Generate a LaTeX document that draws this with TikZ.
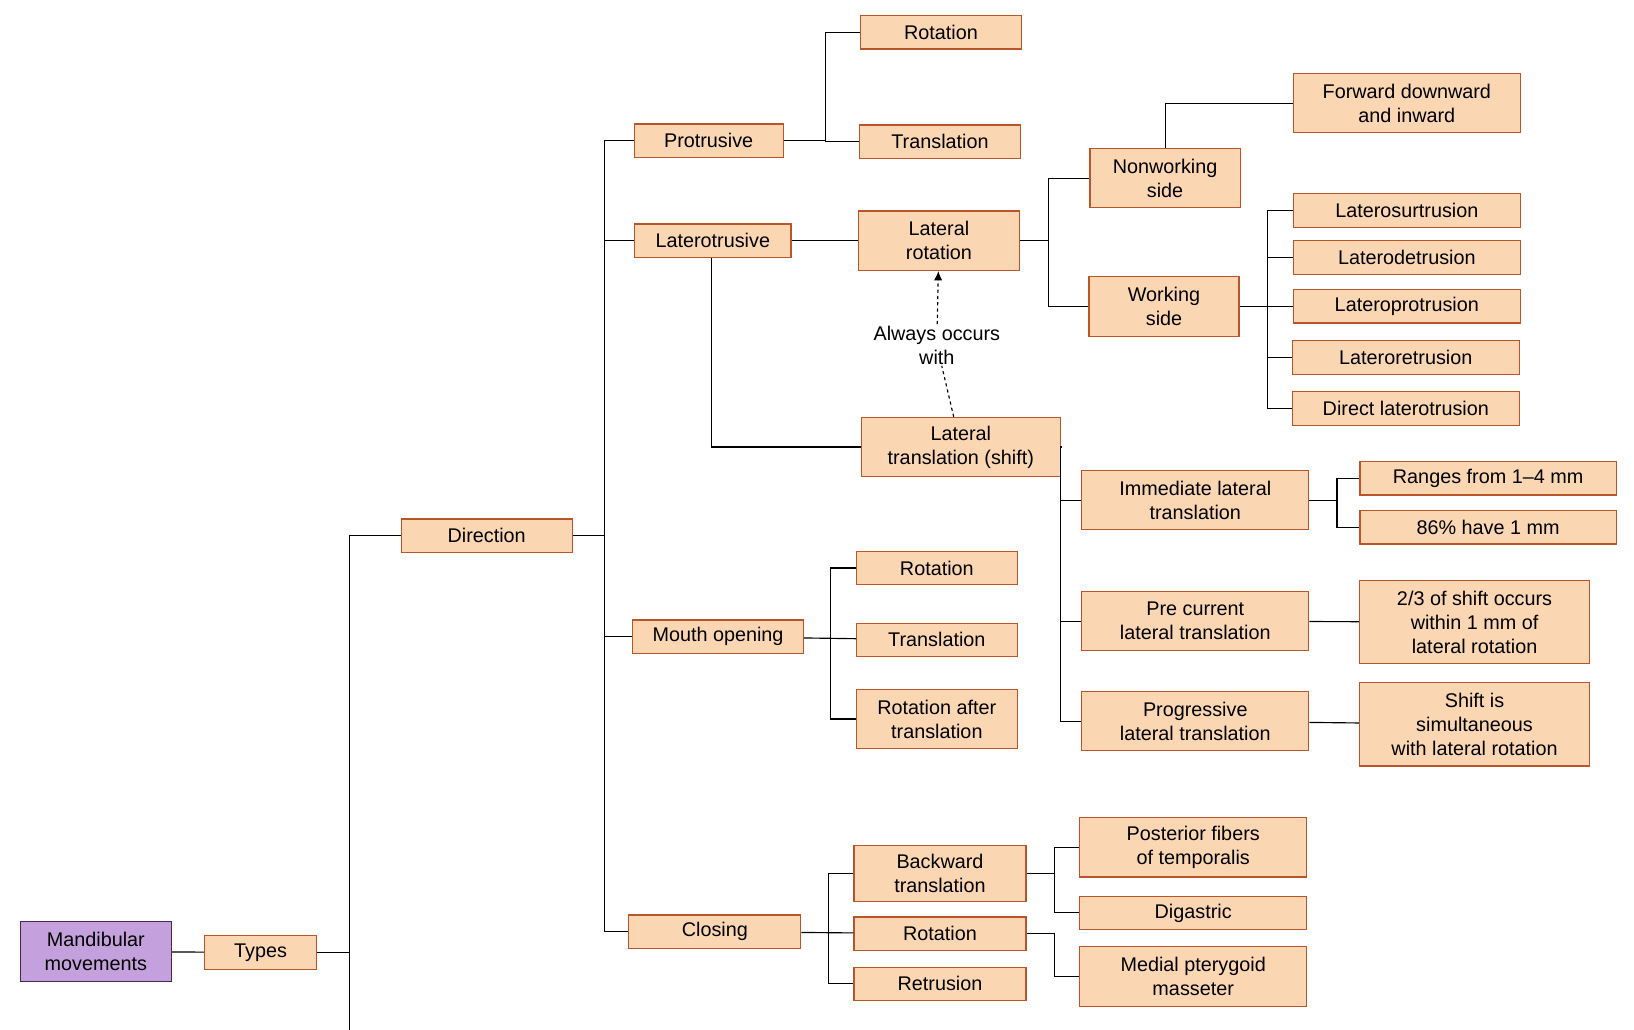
\documentclass[tikz,border=0pt]{standalone}
\usepackage{fontspec}
\setmainfont{Liberation Sans}
\usetikzlibrary{arrows.meta,positioning,calc}
\definecolor{boxfill}{RGB}{250,214,178}
\definecolor{boxline}{RGB}{185,85,40}
\definecolor{purfill}{RGB}{196,160,220}
\definecolor{purline}{RGB}{70,40,90}

\begin{document}
\begin{tikzpicture}[x=1pt,y=-1pt,line width=1.1pt]
  \tikzset{box/.style = {draw=boxline,fill=boxfill,align=center,inner sep=1pt,
      font=\fontsize{19}{27}\selectfont,minimum height=32pt}}
  \tikzset{root/.style = {box,draw=purline,fill=purfill}}
  \tikzset{link/.style = {draw=black,line width=1.1pt}}
  \useasboundingbox (0,0) rectangle (1568,988);

  % left side
  \node[root,minimum width=145pt,minimum height=57pt] (mand) at (92,913) {Mandibular\\[-4pt]movements};
  \node[box,minimum width=107pt] (types) at (250,914) {Types};
  \node[box,minimum width=164pt] (dir) at (467,514) {Direction};

  % direction branches
  \node[box,minimum width=143pt] (prot) at (680,135) {Protrusive};
  \node[box,minimum width=150pt] (lat) at (684,231) {Laterotrusive};
  \node[box,minimum width=164pt] (mouth) at (689,611) {Mouth opening};
  \node[box,minimum width=165pt] (clos) at (686,894) {Closing};

  % protrusive
  \node[box,minimum width=154pt] (prot1) at (903,31) {Rotation};
  \node[box,minimum width=154pt] (prot2) at (902,136) {Translation};

  % laterotrusive
  \node[box,minimum width=155pt,minimum height=57pt] (lrot) at (901,231) {Lateral\\[-4pt]rotation};
  \node[box,minimum width=191pt,minimum height=57pt] (ltr) at (922,429) {Lateral\\[-4pt]translation (shift)};
  \node[align=center,font=\fontsize{19}{27}\selectfont,fill=white,inner sep=1pt] (always) at (899,331) {Always occurs\\[-4pt]with};
  \node[box,minimum width=144pt,minimum height=57pt] (nonw) at (1118,171) {Nonworking\\[-4pt]side};
  \node[box,minimum width=144pt,minimum height=57pt] (work) at (1117,294) {Working\\[-4pt]side};
  \node[box,minimum width=218pt,minimum height=57pt] (fwd) at (1350,99) {Forward downward\\[-4pt]and inward};
  \node[box,minimum width=218pt] (w1) at (1350,202) {Laterosurtrusion};
  \node[box,minimum width=218pt] (w2) at (1350,247) {Laterodetrusion};
  \node[box,minimum width=218pt] (w3) at (1350,294) {Lateroprotrusion};
  \node[box,minimum width=218pt] (w4) at (1349,343) {Lateroretrusion};
  \node[box,minimum width=218pt] (w5) at (1349,392) {Direct laterotrusion};
  \node[box,minimum width=218pt,minimum height=57pt] (imm) at (1147,480) {Immediate lateral\\[-4pt]translation};
  \node[box,minimum width=218pt,minimum height=57pt] (pre) at (1147,596) {Pre current\\[-4pt]lateral translation};
  \node[box,minimum width=218pt,minimum height=57pt] (prog) at (1147,692) {Progressive\\[-4pt]lateral translation};
  \node[box,minimum width=246pt] (rng) at (1428,459) {Ranges from 1–4 mm};
  \node[box,minimum width=246pt] (pct) at (1428,506) {86\% have 1 mm};
  \node[box,minimum width=221pt,minimum height=80pt] (third) at (1415,597) {2/3 of shift occurs\\[-4pt]within 1 mm of\\[-4pt]lateral rotation};
  \node[box,minimum width=221pt,minimum height=80pt] (simul) at (1415,695) {Shift is\\[-4pt]simultaneous\\[-4pt]with lateral rotation};

  % mouth opening
  \node[box,minimum width=154pt] (mo1) at (899,545) {Rotation};
  \node[box,minimum width=154pt] (mo2) at (899,614) {Translation};
  \node[box,minimum width=154pt,minimum height=57pt] (mo3) at (899,690) {Rotation after\\[-4pt]translation};

  % closing
  \node[box,minimum width=165pt,minimum height=54pt] (cl1) at (902,838) {Backward\\[-4pt]translation};
  \node[box,minimum width=165pt] (cl2) at (902,896) {Rotation};
  \node[box,minimum width=165pt] (cl3) at (902,944) {Retrusion};
  \node[box,minimum width=218pt,minimum height=57pt] (post) at (1145,813) {Posterior fibers\\[-4pt]of temporalis};
  \node[box,minimum width=218pt] (dig) at (1145,876) {Digastric};
  \node[box,minimum width=218pt,minimum height=57pt] (med) at (1145,937) {Medial pterygoid\\[-4pt]masseter};

  % junctions
  \coordinate (tj) at (335,988);
  \coordinate (dj) at (580,514);
  \coordinate (pj) at (792,0);
  \coordinate (rj) at (1006,0);
  \coordinate (wj) at (1216,0);
  \coordinate (sj) at (1018,0);
  \coordinate (ij) at (1283,0);
  \coordinate (mj) at (797,0);
  \coordinate (cj) at (795,0);
  \coordinate (bj) at (1012,0);

  % connectors
  \draw[link] (mand) -- (types);
  \draw[link] (types) -- (types -| tj);
  \draw[link] (tj) |- (dir);
  \draw[link] (dir) -- (dj);
  \draw[link] (prot) -| (dj) |- (clos);
  \draw[link] (lat) -- (lat -| dj);
  \draw[link] (mouth) -- (mouth -| dj);
  \draw[link] (prot1) -| (pj |- prot2) -- (prot2);
  \draw[link] (prot) -- (prot -| pj);
  \draw[link] (lat) -- (lrot);
  \draw[link] (lat.south -| 683,0) |- (ltr);
  \draw[link,dashed] (ltr) -- (always);
  \draw[link,dashed,-{Latex[length=9pt,width=8pt]}] (always) -- (lrot);
  \draw[link] (nonw) -| (rj |- work) -- (work);
  \draw[link] (lrot) -- (lrot -| rj);
  \draw[link] (nonw) |- (fwd);
  \draw[link] (w1) -| (wj |- w5) -- (w5);
  \draw[link] (work) -- (w3);
  \foreach \n in {w2,w4} \draw[link] (\n) -- (\n -| wj);
  \draw[link] (ltr) -| (sj |- prog) -- (prog);
  \foreach \n in {imm,pre} \draw[link] (\n) -- (\n -| sj);
  \draw[link] (rng) -| (ij |- pct) -- (pct);
  \draw[link] (imm) -- (imm -| ij);
  \draw[link] (pre) -- (third);
  \draw[link] (prog) -- (simul);
  \draw[link] (mo1) -| (mj |- mo3) -- (mo3);
  \draw[link] (mouth) -- (mo2);
  \draw[link] (cl1) -| (cj |- cl3) -- (cl3);
  \draw[link] (clos) -- (cl2);
  \draw[link] (post) -| (bj |- dig) -- (dig);
  \draw[link] (cl1) -- (cl1 -| bj);
  \draw[link] (cl2) -| (bj |- med) -- (med);
\end{tikzpicture}
\end{document}
